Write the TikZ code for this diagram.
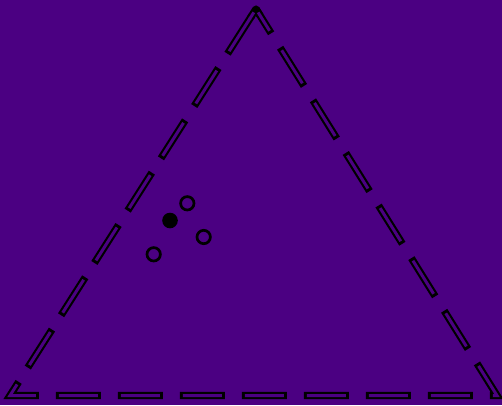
\documentclass[tikz,border=0pt]{standalone}
\usetikzlibrary{calc}
\definecolor{bgpurple}{RGB}{75,0,130}
\tikzset{
  outerline/.style={draw=black, line width=7.3pt, line join=miter, dash pattern=on 45pt off 17pt, dash phase=54pt},
  innerline/.style={draw=bgpurple, line width=3pt, line join=miter, dash pattern=on 39pt off 23pt, dash phase=51pt},
  apexcap/.style={draw=black, line width=7.3pt, line join=round},
  apexinner/.style={draw=bgpurple, line width=3pt},
  opendot/.style={circle, draw=black, line width=2.7pt, minimum size=13.4pt, inner sep=0pt},
  fulldot/.style={circle, fill=black, minimum size=15.6pt, inner sep=0pt}
}
\begin{document}
\begin{tikzpicture}[x=1pt,y=-1pt]
\fill[bgpurple] (0,0) rectangle (502,405);
\useasboundingbox (0,0) rectangle (502,405);
\coordinate (top) at (256,9);
\coordinate (bl) at (10,395.5);
\coordinate (br) at (497,395.5);
\draw[outerline] (top) -- (bl) -- (br) -- (top);
\draw[apexcap] ($(top)!8pt!(br)$) -- (top) -- ($(top)!10pt!(bl)$);
\draw[innerline, shorten >=4pt] (top) -- (bl) -- (br) -- (top);
\draw[apexinner] ($(top)!4pt!(bl)$) -- ($(top)!12pt!(bl)$);
\node[fulldot] (f) at (170,220.5) {};
\node[opendot] (o1) at (187.3,203.3) {};
\node[opendot] (o2) at (203.7,237) {};
\node[opendot] (o3) at (153.7,254.3) {};
\end{tikzpicture}
\end{document}
